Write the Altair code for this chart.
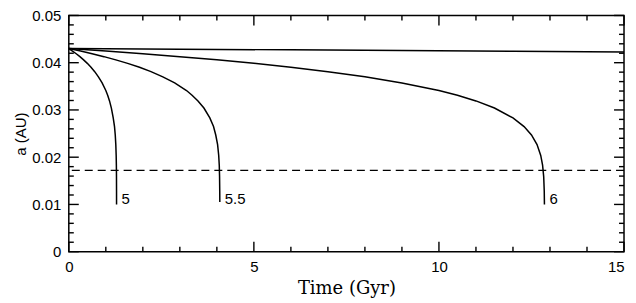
import altair as alt
import pandas as pd

# ---- data ----
t_top = [0, 3, 6, 9, 12, 15]
a_top = [0.04300, 0.04286, 0.04272, 0.04257, 0.04242, 0.04228]

t_6 = [0, 1, 2, 3, 4, 5, 6, 7, 8, 9, 10, 10.5, 11, 11.5, 12, 12.3, 12.5, 12.65, 12.75, 12.8, 12.83, 12.845, 12.85]
a_6 = [0.0430, 0.04247, 0.04190, 0.04128, 0.04060, 0.03986, 0.03903, 0.03810, 0.03701, 0.03572, 0.03411,
       0.03311, 0.03191, 0.03040, 0.02831, 0.02648, 0.02470, 0.02266, 0.02037, 0.01831, 0.01590, 0.01285, 0.0100]

t_55 = [0, 0.32, 0.63, 0.95, 1.27, 1.59, 1.91, 2.22, 2.54, 2.86, 3.18, 3.33, 3.49, 3.65, 3.81, 3.91, 3.97,
        4.02, 4.05, 4.065, 4.073, 4.078, 4.08]
a_55 = [0.0430, 0.04247, 0.04190, 0.04128, 0.04060, 0.03986, 0.03903, 0.03810, 0.03701, 0.03572, 0.03411,
        0.03311, 0.03191, 0.03040, 0.02831, 0.02648, 0.02470, 0.02266, 0.02037, 0.01831, 0.01590, 0.01285, 0.0105]

t_5 = [0, 0.10, 0.20, 0.30, 0.40, 0.50, 0.60, 0.70, 0.80, 0.90, 1.00, 1.05, 1.10, 1.15, 1.20, 1.235, 1.255,
       1.27, 1.28, 1.285, 1.288, 1.2895, 1.29]
a_5 = [0.0430, 0.04247, 0.04190, 0.04128, 0.04060, 0.03986, 0.03903, 0.03810, 0.03701, 0.03572, 0.03411,
       0.03311, 0.03191, 0.03040, 0.02831, 0.02648, 0.02470, 0.02266, 0.02037, 0.01831, 0.01590, 0.01285, 0.0100]

dash_level = 0.0172

label_text = ["5", "5.5", "6"]
label_t = [1.29, 4.08, 12.85]
label_a = [0.0111, 0.0111, 0.0111]

x_major = [0, 5, 10, 15]
x_minor = [1, 2, 3, 4, 6, 7, 8, 9, 11, 12, 13, 14]
y_major = [0, 0.01, 0.02, 0.03, 0.04, 0.05]
y_minor = [0.002, 0.004, 0.006, 0.008, 0.012, 0.014, 0.016, 0.018, 0.022, 0.024, 0.026, 0.028,
           0.032, 0.034, 0.036, 0.038, 0.042, 0.044, 0.046, 0.048]

# ---- build tables ----
rows = []
for name, ts, as_ in [("top", t_top, a_top), ("6", t_6, a_6), ("5.5", t_55, a_55), ("5", t_5, a_5)]:
    for i, (t, a) in enumerate(zip(ts, as_)):
        rows.append({"curve": name, "idx": i, "t": t, "a": a})
df = pd.DataFrame(rows)

W, H = 557, 237
MAJ, MIN = 10, 5

xs = alt.Scale(domain=[0, 15], nice=False, zero=False)
ys = alt.Scale(domain=[0, 0.05], nice=False, zero=False)

X_AXIS = alt.Axis(
    values=x_major, format="d", title="Time (Gyr)", labelFlush=False,
    labelAlign={"condition": {"test": "datum.value == 15", "value": "right"}, "value": "center"},
    labelFont="Liberation Sans", labelFontSize=15, labelPadding=8,
    titleFont="DejaVu Serif", titleFontSize=18, titleFontWeight="normal", titlePadding=5)
Y_AXIS = alt.Axis(
    values=y_major, title="a (AU)",
    labelExpr="datum.value == 0 ? '0' : format(datum.value, '.2f')",
    labelFont="Liberation Sans", labelFontSize=15, labelPadding=8, labelFlush=False,
    titleFont="Liberation Sans", titleFontSize=15, titleFontWeight="normal", titlePadding=3)


def X(field="t"):
    return alt.X(f"{field}:Q", scale=xs, axis=X_AXIS, title="Time (Gyr)")


def Y(field="a"):
    return alt.Y(f"{field}:Q", scale=ys, axis=Y_AXIS, title="a (AU)")


lines = alt.Chart(df).mark_line(color="black", strokeWidth=1.5).encode(
    x=X(), y=Y(), detail="curve:N", order="idx:Q",
)

dash = alt.Chart(pd.DataFrame({"a": [dash_level]})).mark_rule(
    color="black", strokeWidth=1.4, strokeDash=[8, 5]
).encode(y=Y())

labels = alt.Chart(pd.DataFrame({"t": label_t, "a": label_a, "txt": label_text})).mark_text(
    align="left", baseline="middle", dx=5, font="Liberation Sans", fontSize=15, color="black"
).encode(x=X(), y=Y(), text="txt:N")


def xticks(vals, length):
    d = pd.DataFrame({"t": vals})
    bot = alt.Chart(d).mark_rule(color="black", strokeWidth=1.4).encode(
        x=X(), y=alt.value(H), y2=alt.value(H - length))
    top = alt.Chart(d).mark_rule(color="black", strokeWidth=1.4).encode(
        x=X(), y=alt.value(0), y2=alt.value(length))
    return [bot, top]


def yticks(vals, length):
    d = pd.DataFrame({"a": vals})
    left = alt.Chart(d).mark_rule(color="black", strokeWidth=1.4).encode(
        y=Y(), x=alt.value(0), x2=alt.value(length))
    right = alt.Chart(d).mark_rule(color="black", strokeWidth=1.4).encode(
        y=Y(), x=alt.value(W), x2=alt.value(W - length))
    return [left, right]


tick_layers = xticks(x_major, MAJ) + xticks(x_minor, MIN) + yticks(y_major, MAJ) + yticks(y_minor, MIN)

chart = alt.layer(lines, dash, labels, *tick_layers).properties(
    width=W, height=H,
    autosize=alt.AutoSizeParams(type="none"),
    padding={"left": 61, "top": 7, "right": 4, "bottom": 50},
).configure_view(stroke="black", strokeWidth=1.5).configure_axis(
    domain=False, ticks=False, grid=False, labelColor="black", titleColor="black"
)

chart.save("out.html", embed_options={"renderer": "svg", "actions": False})
